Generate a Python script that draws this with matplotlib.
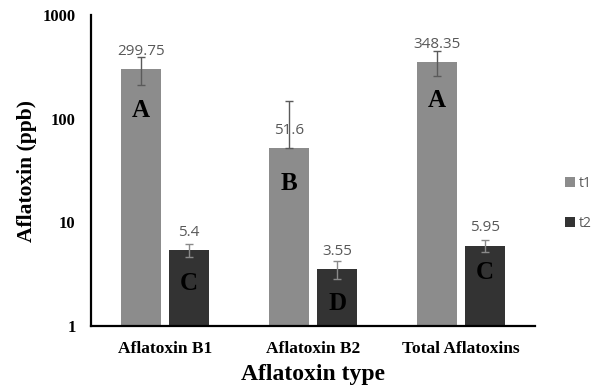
import matplotlib
matplotlib.use("Agg")
import matplotlib.pyplot as plt
import numpy as np

categories = ["Aflatoxin B1", "Aflatoxin B2", "Total Aflatoxins"]
t1_values = [299.75, 51.6, 348.35]
t2_values = [5.4, 3.55, 5.95]
t1_err_low = [90, 0, 92]
t1_err_high = [93, 96, 100]
t2_err = [0.75, 0.72, 0.8]
t1_letters = ["A", "B", "A"]
t2_letters = ["C", "D", "C"]
series_names = ["t1", "t2"]
yticks = [1, 10, 100, 1000]

c1 = "#8c8c8c"
c2 = "#333333"
lab_col = "#595959"
serif = "Liberation Serif"
sans = "Open Sans"

fig = plt.figure(figsize=(5.93, 3.92), dpi=100)
ax = fig.add_axes([0.1535, 0.168, 0.749, 0.794])

x = np.arange(len(categories))
w = 0.27
off = 0.162
b1 = ax.bar(x - off, t1_values, w, color=c1, label=series_names[0], zorder=2)
b2 = ax.bar(x + off, t2_values, w, color=c2, label=series_names[1], zorder=2)
ax.errorbar(x - off, t1_values, yerr=[t1_err_low, t1_err_high], fmt="none",
            ecolor="#5a5a5a", elinewidth=1, capsize=3, capthick=1, zorder=3)
ax.errorbar(x + off, t2_values, yerr=t2_err, fmt="none",
            ecolor="#8a8a8a", elinewidth=1, capsize=3, capthick=1, zorder=3)

ax.set_yscale("log")
ax.set_ylim(1, 1000)
ax.set_xlim(-0.5, len(categories) - 0.5)
ax.set_yticks(yticks)
ax.set_yticklabels([str(v) for v in yticks], fontfamily=serif, fontweight="bold", fontsize=12)
ax.yaxis.set_minor_locator(matplotlib.ticker.NullLocator())
ax.set_xticks(x)
ax.set_xticklabels(categories, fontfamily=serif, fontweight="bold", fontsize=12.5)
ax.tick_params(axis="y", length=0, pad=11)
ax.tick_params(axis="x", length=0, pad=11)
for s in ["top", "right"]:
    ax.spines[s].set_visible(False)
for s in ["left", "bottom"]:
    ax.spines[s].set_linewidth(1.6)
    ax.spines[s].set_color("black")

def fmt(v):
    return ("%g" % v)

k = 72 / 100
t1_letter_off = [-41, -35, -38]
t2_letter_off = [-33, -34, -27]
for i in range(len(categories)):
    ax.annotate(fmt(t1_values[i]), (x[i] - off, t1_values[i]), xytext=(0, 18 * k),
                textcoords="offset points", ha="center", va="center",
                color=lab_col, fontfamily=sans, fontsize=11, zorder=4)
    ax.annotate(fmt(t2_values[i]), (x[i] + off, t2_values[i]), xytext=(0, 18 * k),
                textcoords="offset points", ha="center", va="center",
                color=lab_col, fontfamily=sans, fontsize=11, zorder=4)
    ax.annotate(t1_letters[i], (x[i] - off, t1_values[i]), xytext=(0, t1_letter_off[i] * k),
                textcoords="offset points", ha="center", va="center",
                color="black", fontfamily=serif, fontweight="bold", fontsize=18, zorder=4)
    ax.annotate(t2_letters[i], (x[i] + off, t2_values[i]), xytext=(0, t2_letter_off[i] * k),
                textcoords="offset points", ha="center", va="center",
                color="black", fontfamily=serif, fontweight="bold", fontsize=18, zorder=4)

ax.set_ylabel("Aflatoxin (ppb)", fontfamily=serif, fontweight="bold", fontsize=15.5, labelpad=4)
ax.set_xlabel("Aflatoxin type", fontfamily=serif, fontweight="bold", fontsize=17, labelpad=5)

leg = fig.legend(handles=[b1, b2], labels=series_names, loc="center left",
                 bbox_to_anchor=(0.953, 0.481), frameon=False, handlelength=0.7,
                 handleheight=0.7, handletextpad=0.25, labelspacing=1.8,
                 borderpad=0, borderaxespad=0,
                 prop={"family": sans, "size": 10})
for t in leg.get_texts():
    t.set_color(lab_col)

fig.savefig("out.png", dpi=100)
